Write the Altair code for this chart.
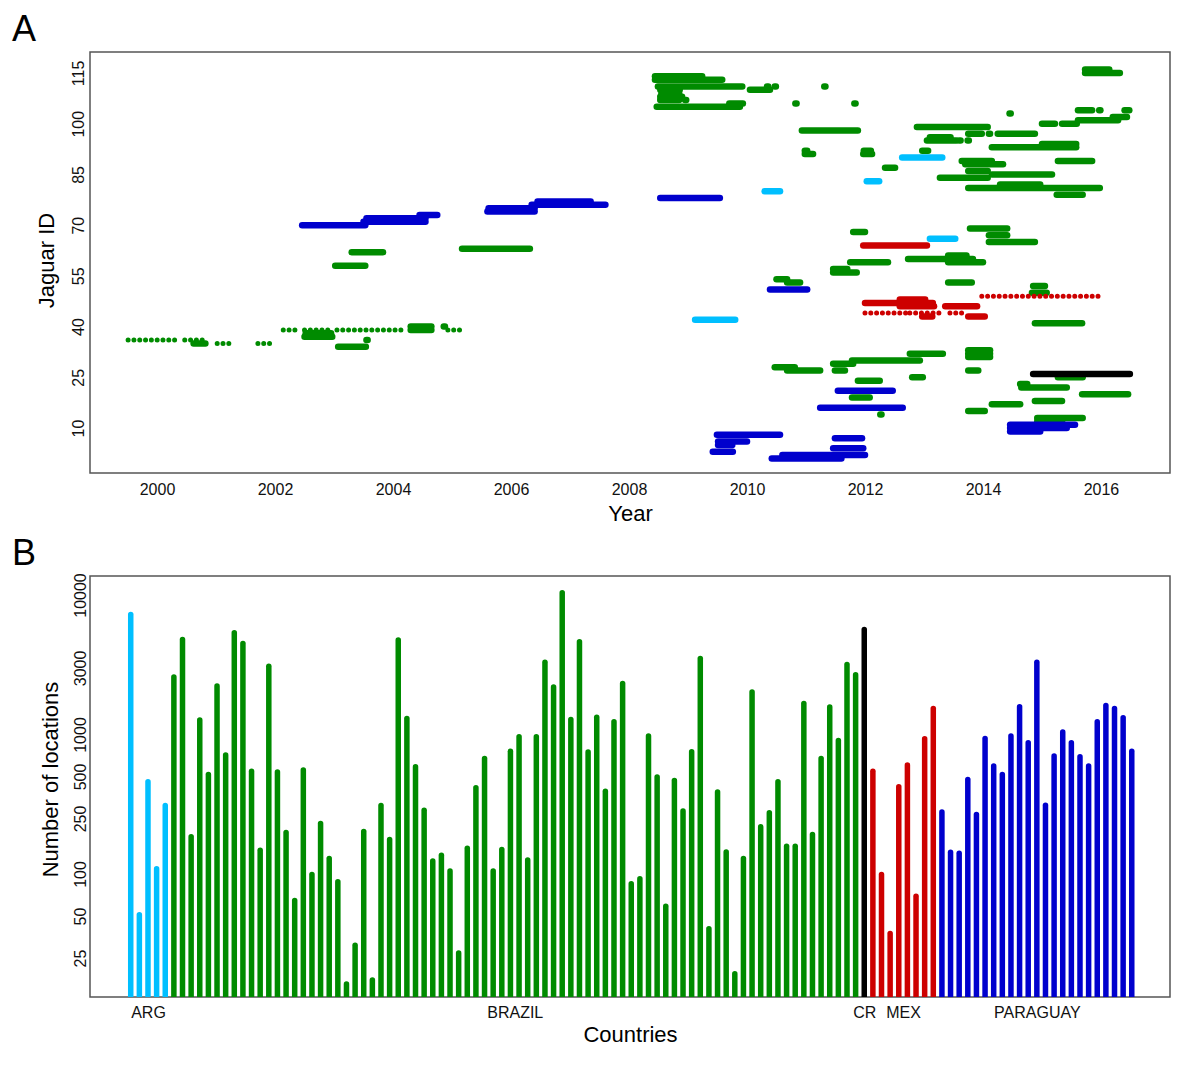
import altair as alt
import pandas as pd

FONT = "Liberation Sans"
COUNTRIES = ["ARG", "BRAZIL", "CR", "MEX", "PARAGUAY"]
COUNTRY_COLORS = ["#00BFFF", "#008B00", "#000000", "#CD0000", "#0000CD"]

YEAR_TICKS = [2000, 2002, 2004, 2006, 2008, 2010, 2012, 2014, 2016]
ID_TICKS = [10, 25, 40, 55, 70, 85, 100, 115]
LOC_TICKS = [25, 50, 100, 250, 500, 1000, 3000, 10000]

# Panel A: tracking periods (jaguar id, start year, end year, dotted 1/0)
arg_tracks = [
    (42, 2009.12, 2009.80, 0), (80, 2010.30, 2010.56, 0), (83, 2012.03, 2012.24, 0),
    (90, 2012.63, 2013.31, 0), (66, 2013.10, 2013.53, 0),
]
bra_tracks = [
    (36, 1999.51, 2000.39, 1), (36, 2000.47, 2000.85, 1), (35, 2000.62, 2000.82, 0),
    (35, 2001.02, 2001.27, 1), (35, 2001.71, 2001.95, 1), (39, 2002.14, 2002.42, 1),
    (39, 2002.50, 2002.98, 1), (38, 2002.52, 2002.95, 0), (37, 2002.50, 2002.97, 0),
    (34, 2003.07, 2003.54, 0), (36, 2003.55, 2003.57, 0), (39, 2003.05, 2004.20, 1),
    (40, 2004.30, 2004.65, 0), (39, 2004.30, 2004.65, 0), (40, 2004.86, 2004.88, 0),
    (39, 2004.93, 2005.22, 1), (58, 2003.02, 2003.53, 0), (62, 2003.30, 2003.83, 0),
    (63, 2005.17, 2006.32, 0),
    (114, 2008.44, 2009.24, 0), (113, 2008.44, 2009.58, 0), (111, 2008.49, 2009.92, 0),
    (110, 2008.53, 2008.86, 0), (109, 2008.55, 2008.85, 0), (108, 2008.53, 2008.90, 0),
    (107, 2008.53, 2008.85, 0), (107, 2008.95, 2008.97, 0), (105, 2008.47, 2009.88, 0),
    (106, 2009.70, 2009.93, 0), (110, 2010.05, 2010.39, 0), (111, 2010.34, 2010.36, 0),
    (111, 2010.47, 2010.49, 0), (111, 2011.31, 2011.33, 0), (106, 2010.82, 2010.84, 0),
    (106, 2011.82, 2011.84, 0), (98, 2010.93, 2011.88, 0), (91, 2010.98, 2011.12, 0),
    (92, 2010.98, 2011.02, 0), (91, 2011.97, 2012.12, 0), (92, 2011.98, 2012.10, 0),
    (87, 2012.34, 2012.51, 0), (92, 2012.97, 2013.07, 0), (99, 2012.88, 2014.08, 0),
    (95, 2013.05, 2013.55, 0), (96, 2013.10, 2013.45, 0), (95, 2013.60, 2013.62, 0),
    (95, 2013.74, 2013.76, 0), (97, 2013.75, 2013.98, 0), (97, 2014.10, 2014.12, 0),
    (97, 2014.25, 2014.88, 0), (103, 2014.45, 2014.47, 0), (100, 2015.00, 2015.22, 0),
    (100, 2015.34, 2015.59, 0), (101, 2015.61, 2016.29, 0), (102, 2016.20, 2016.44, 0),
    (104, 2015.61, 2015.85, 0), (104, 2015.97, 2015.99, 0), (104, 2016.40, 2016.48, 0),
    (116, 2015.73, 2016.14, 0), (115, 2015.73, 2016.32, 0), (93, 2014.15, 2015.58, 0),
    (94, 2015.00, 2015.58, 0), (89, 2015.27, 2015.85, 0), (89, 2013.64, 2014.15, 0),
    (88, 2013.70, 2014.34, 0), (86, 2013.75, 2014.08, 0), (84, 2013.27, 2014.08, 0),
    (85, 2014.15, 2015.17, 0), (81, 2013.75, 2015.98, 0), (82, 2014.29, 2014.97, 0),
    (79, 2015.25, 2015.69, 0), (69, 2013.78, 2014.41, 0), (67, 2014.10, 2014.41, 0),
    (65, 2014.10, 2014.88, 0), (68, 2011.80, 2012.00, 0), (59, 2011.75, 2012.39, 0),
    (60, 2012.73, 2013.83, 0), (59, 2013.41, 2014.00, 0), (61, 2013.41, 2013.72, 0),
    (57, 2011.46, 2011.70, 0), (56, 2011.46, 2011.86, 0), (53, 2013.41, 2013.81, 0),
    (54, 2010.50, 2010.68, 0), (53, 2010.68, 2010.90, 0), (28, 2010.47, 2010.81, 0),
    (27, 2010.68, 2011.24, 0), (19, 2011.78, 2012.08, 0), (14, 2012.26, 2012.28, 0),
    (24, 2011.88, 2012.25, 0), (29, 2011.46, 2011.80, 0), (30, 2011.78, 2012.93, 0),
    (32, 2012.76, 2013.32, 0), (27, 2011.49, 2011.66, 0), (25, 2012.80, 2012.98, 0),
    (33, 2013.75, 2014.12, 0), (32, 2013.75, 2014.12, 0), (31, 2013.75, 2014.12, 0),
    (27, 2013.75, 2013.92, 0), (15, 2013.75, 2014.03, 0), (52, 2014.85, 2015.05, 0),
    (50, 2014.83, 2015.08, 0), (41, 2014.88, 2015.68, 0), (25, 2015.27, 2015.69, 0),
    (23, 2014.63, 2014.75, 0), (22, 2014.65, 2015.42, 0), (20, 2015.68, 2016.46, 0),
    (18, 2014.88, 2015.34, 0), (17, 2014.15, 2014.63, 0), (13, 2014.92, 2015.69, 0),
    (12, 2014.92, 2015.34, 0),
]
cr_tracks = [(26, 2014.85, 2016.49, 0)]
mex_tracks = [
    (64, 2011.97, 2013.05, 0), (48, 2012.59, 2013.02, 0), (47, 2012.00, 2013.15, 0),
    (46, 2012.59, 2013.17, 0), (46, 2013.36, 2013.90, 0), (44, 2012.00, 2012.51, 1),
    (44, 2012.59, 2012.70, 1), (44, 2012.76, 2013.31, 1), (43, 2012.97, 2013.14, 0),
    (44, 2013.44, 2013.73, 1), (43, 2013.75, 2014.03, 0), (49, 2013.98, 2015.95, 1),
]
par_tracks = [
    (70, 2002.46, 2003.53, 0), (71, 2003.50, 2004.55, 0), (72, 2003.55, 2004.55, 0),
    (73, 2004.45, 2004.75, 0), (74, 2005.60, 2006.40, 0), (75, 2005.62, 2006.40, 0),
    (76, 2006.35, 2007.60, 0), (77, 2006.45, 2007.35, 0), (78, 2008.53, 2009.54, 0),
    (51, 2010.39, 2011.02, 0), (16, 2011.24, 2012.64, 0), (8, 2009.49, 2010.56, 0),
    (6, 2009.51, 2010.00, 0), (5, 2009.51, 2009.75, 0), (3, 2009.42, 2009.76, 0),
    (1, 2010.42, 2011.60, 0), (2, 2010.60, 2012.00, 0), (7, 2011.49, 2011.95, 0),
    (4, 2011.46, 2011.97, 0), (21, 2011.54, 2012.47, 0), (11, 2014.46, 2015.56, 0),
    (10, 2014.46, 2015.42, 0), (9, 2014.46, 2014.97, 0),
]

# Panel B: number of locations per jaguar, grouped by country
arg_locations = [7250, 51, 459, 109, 310]
bra_locations = [
    2580, 4800, 185, 1270, 517, 2225, 712, 5360, 4490, 546,
    148, 3090, 539, 198, 64.5, 556, 99, 230, 129, 88,
    16.3, 30.8, 202, 17.4, 310, 177, 4760, 1300, 587, 287,
    124, 136, 105, 27.2, 153, 415, 673, 105, 150, 760,
    963, 126, 963, 3300, 2190, 10370, 1280, 4620, 748, 1332,
    392, 1234, 2320, 85, 92.4, 974, 496, 58.8, 468, 283,
    752, 3500, 40.5, 387, 144, 19.3, 129, 2015, 218, 275,
    458, 158, 158, 1668, 192, 673, 1572, 906, 3175, 2680,
]
cr_locations = [5660]
mex_locations = [546, 99, 37.4, 422, 604, 69.4, 932, 1537]
par_locations = [
    278, 143, 141, 476, 267, 936, 594, 517, 974, 1580,
    873, 3300, 311, 700, 1040, 873, 692, 594, 1234, 1614,
    1537, 1318, 760,
]

# ---------------- data tables ----------------
rows = []
for country, tracks in zip(COUNTRIES, [arg_tracks, bra_tracks, cr_tracks, mex_tracks, par_tracks]):
    for jid, start, end, dotted in tracks:
        rows.append({"id": jid, "start": start, "end": end, "country": country, "dotted": dotted})
tracks_df = pd.DataFrame(rows)

bar_rows = []
centers = []
idx = 0
for country, locs in zip(COUNTRIES, [arg_locations, bra_locations, cr_locations, mex_locations, par_locations]):
    first = idx + 1
    for n in locs:
        idx += 1
        bar_rows.append({"idx": idx, "n": n, "country": country, "base": 10})
    centers.append((first + idx) / 2)
bars_df = pd.DataFrame(bar_rows)

label_expr = ""
for c, name in zip(centers, COUNTRIES):
    label_expr += f"datum.value == {c} ? '{name}' : "
label_expr += "''"

color = alt.Color("country:N", scale=alt.Scale(domain=COUNTRIES, range=COUNTRY_COLORS), legend=None)

# ---------------- panel A ----------------
x_a = alt.X(
    "start:Q",
    scale=alt.Scale(domain=[1998.864, 2017.17], nice=False, zero=False),
    axis=alt.Axis(values=YEAR_TICKS, format="d", title="Year", labelPadding=8, titlePadding=6),
)
y_a = alt.Y(
    "id:Q",
    scale=alt.Scale(domain=[-3.3, 121.2], nice=False, zero=False),
    axis=alt.Axis(
        values=ID_TICKS, title="Jaguar ID", labelAngle=-90, labelAlign="center",
        labelBaseline="alphabetic", labelPadding=7, titleX=-37, titleY=208,
        titleAngle=-90, titleAlign="center", titleBaseline="alphabetic",
    ),
)
base_a = alt.Chart(tracks_df).encode(x=x_a, x2="end:Q", y=y_a, color=color)
solid_a = base_a.transform_filter("datum.dotted == 0").mark_rule(strokeWidth=6.5, strokeCap="round")
dotted_a = base_a.transform_filter("datum.dotted == 1").mark_rule(
    strokeWidth=5, strokeCap="round", strokeDash=[0.01, 5.8]
)
label_a = alt.Chart(pd.DataFrame({"t": ["A"]})).mark_text(
    align="left", baseline="alphabetic", fontSize=36, font=FONT, color="black"
).encode(x=alt.value(-78), y=alt.value(-11), text="t:N")
panel_a = alt.layer(solid_a, dotted_a, label_a).properties(width=1080, height=421)

# ---------------- panel B ----------------
x_b = alt.X(
    "idx:Q",
    scale=alt.Scale(domain=[-3.72, 121.43], nice=False, zero=False),
    axis=alt.Axis(values=centers, labelExpr=label_expr, title="Countries", labelPadding=7,
                  titlePadding=4, labelOverlap=False, labelFlush=False),
)
y_b = alt.Y(
    "n:Q",
    scale=alt.Scale(type="log", domain=[13.13, 13684], nice=False),
    axis=alt.Axis(
        values=LOC_TICKS, format="d", title="Number of locations", labelAngle=-90,
        labelAlign="center", labelBaseline="alphabetic", labelPadding=5, titleX=-33,
        titleY=203, titleAngle=-90, titleAlign="center", titleBaseline="alphabetic",
    ),
)
bars_b = alt.Chart(bars_df).mark_rule(strokeWidth=5.5, strokeCap="round", clip=True).encode(
    x=x_b, y=y_b, y2="base:Q", color=color
)
label_b = alt.Chart(pd.DataFrame({"t": ["B"]})).mark_text(
    align="left", baseline="alphabetic", fontSize=36, font=FONT, color="black"
).encode(x=alt.value(-78), y=alt.value(-11), text="t:N")
panel_b = alt.layer(bars_b, label_b).properties(width=1080, height=421)

chart = (
    alt.vconcat(panel_a, panel_b, spacing=103, bounds="flush")
    .properties(padding={"left": 3, "top": 3, "right": 0, "bottom": 5})
    .configure_view(stroke="#555555", strokeWidth=1.5)
    .configure_axis(
        grid=False, domain=False, ticks=False, tickSize=0,
        labelFont=FONT, labelFontSize=16, labelColor="#111111",
        titleFont=FONT, titleFontSize=22, titleFontWeight="normal", titleColor="#000000",
    )
)

chart.save("out.html", embed_options={"renderer": "svg", "actions": False})
